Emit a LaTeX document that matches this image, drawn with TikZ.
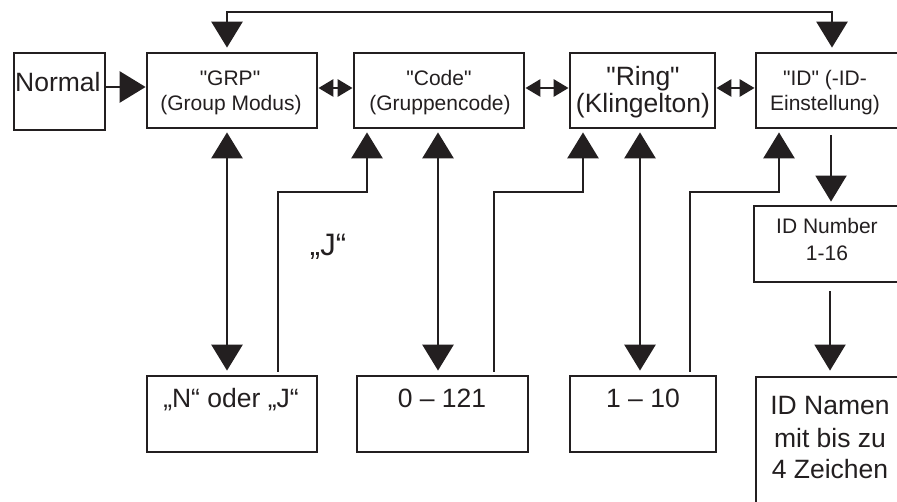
\documentclass[tikz,border=0pt]{standalone}
\usepackage{fontspec}
\setmainfont{Liberation Sans}[Ligatures=TeXOff]
\usetikzlibrary{arrows.meta,calc}
\definecolor{ink}{HTML}{231F20}
\newcommand{\smallf}{\fontsize{21}{25}\selectfont}
\newcommand{\bigf}{\fontsize{26.5}{31}\selectfont}
\begin{document}
\begin{tikzpicture}[x=1pt,y=-1pt,
  box/.style={draw=ink, line width=2.8pt, inner sep=0pt, minimum height=#1},
  box/.default=75pt,
  txt/.style={anchor=base, inner sep=0pt, text=ink},
  conn/.style={draw=ink, line width=2.8pt},
  thin/.style={draw=ink, line width=2pt},
  bigtip/.tip={Triangle[length=26pt, width=31pt]},
  smalltip/.tip={Triangle[length=15pt, width=17pt]}]
\clip (0,0) rectangle (897,502);
\fill[white] (0,0) rectangle (897,502);
% boxes
\node[box=77pt, minimum width=91pt]  (normal) at (59.5,91.5) {};
\node[box, minimum width=170pt] (grp)   at (232,90.5) {};
\node[box, minimum width=170pt] (code)  at (439,90.5) {};
\node[box, minimum width=145pt] (ring)  at (642.5,90.5) {};
\node[box, minimum width=154pt] (id)    at (833,90.5) {};
\node[box=76pt, minimum width=170pt] (nj)    at (232,414) {};
\node[box=76pt, minimum width=171pt] (ncode) at (442.5,414) {};
\node[box=76pt, minimum width=146pt] (nring) at (643,414) {};
\node[box=76pt, minimum width=156pt] (idnum) at (832,244) {};
\node[box=153pt, minimum width=154pt] (idnam) at (833,453.5) {};
% texts
\node[txt, anchor=base west] (tnormal) at (15,92) {\bigf Normal};
\node[txt] (tgrp1) at (230,86) {\smallf "GRP"};
\node[txt] (tgrp2) at (231,111) {\smallf (Group Modus)};
\node[txt] (tcode1) at (439,86) {\smallf "Code"};
\node[txt] (tcode2) at (440,111) {\smallf (Gruppencode)};
\node[txt] (tring1) at (643,86) {\bigf "Ring"};
\node[txt] (tring2) at (643,113) {\bigf (Klingelton)};
\node[txt] (tid1) at (825,86) {\smallf "ID" (-ID-};
\node[txt] (tid2) at (825,111) {\smallf Einstellung)};
\node[txt] (tj) at (328,256) {\fontsize{31}{35}\selectfont „J“};
\node[txt] (tnj) at (231,407) {\bigf „N“ oder „J“};
\node[txt] (tncode) at (442,407) {\bigf 0 – 121};
\node[txt] (tnring) at (643,407) {\bigf 1 – 10};
\node[txt] (tidnum1) at (827,234) {\smallf ID Number};
\node[txt] (tidnum2) at (827,261) {\smallf 1-16};
\node[txt] (tidnam1) at (830,415) {\bigf ID Namen};
\node[txt] (tidnam2) at (830,447) {\bigf mit bis zu};
\node[txt] (tidnam3) at (830,478) {\bigf 4 Zeichen};
% helper coordinates
\coordinate (hy) at (0,87);
\coordinate (hy2) at (0,88);
\coordinate (tl) at (227,12);
\coordinate (tr) at (832,12);
\coordinate (jy) at (0,192);
\coordinate (v1) at (227,0);
\coordinate (v2) at (438,0);
\coordinate (v3) at (640,0);
\coordinate (a1) at (278,0);
\coordinate (b1) at (367,0);
\coordinate (a2) at (494,0);
\coordinate (b2) at (583,0);
\coordinate (a3) at (690,0);
\coordinate (b3) at (779,0);
\coordinate (c1) at (831,0);
\coordinate (c2) at (830,0);
% connectors
\draw[conn, -bigtip] (normal.east |- hy) -- (grp.west |- hy);
\draw[conn, bigtip-bigtip, shorten <=4pt, shorten >=4pt]
  (grp.north -| tl) -- (tl) -- (tr) -- (id.north -| tr);
\draw[conn, smalltip-smalltip] (grp.east |- hy2) -- (code.west |- hy2);
\draw[conn, smalltip-smalltip] (code.east |- hy2) -- (ring.west |- hy2);
\draw[conn, smalltip-smalltip] (ring.east |- hy2) -- (id.west |- hy2);
\draw[conn, bigtip-bigtip, shorten <=3pt, shorten >=4pt] (grp.south -| v1) -- (nj.north -| v1);
\draw[conn, bigtip-bigtip, shorten <=3pt, shorten >=4pt] (code.south -| v2) -- (ncode.north -| v2);
\draw[conn, bigtip-bigtip, shorten <=3pt, shorten >=4pt] (ring.south -| v3) -- (nring.north -| v3);
\draw[conn, -bigtip, shorten <=3pt, shorten >=3pt] (nj.north -| a1) -- (a1 |- jy) -| (code.south -| b1);
\draw[conn, -bigtip, shorten <=3pt, shorten >=3pt] (ncode.north -| a2) -- (a2 |- jy) -| (ring.south -| b2);
\draw[conn, -bigtip, shorten <=3pt, shorten >=3pt] (nring.north -| a3) -- (a3 |- jy) -| (id.south -| b3);
\draw[thin, -bigtip, shorten <=6pt, shorten >=3pt] (id.south -| c1) -- (idnum.north -| c1);
\draw[thin, -bigtip, shorten <=8pt, shorten >=5pt] (idnum.south -| c2) -- (idnam.north -| c2);
\end{tikzpicture}
\end{document}
